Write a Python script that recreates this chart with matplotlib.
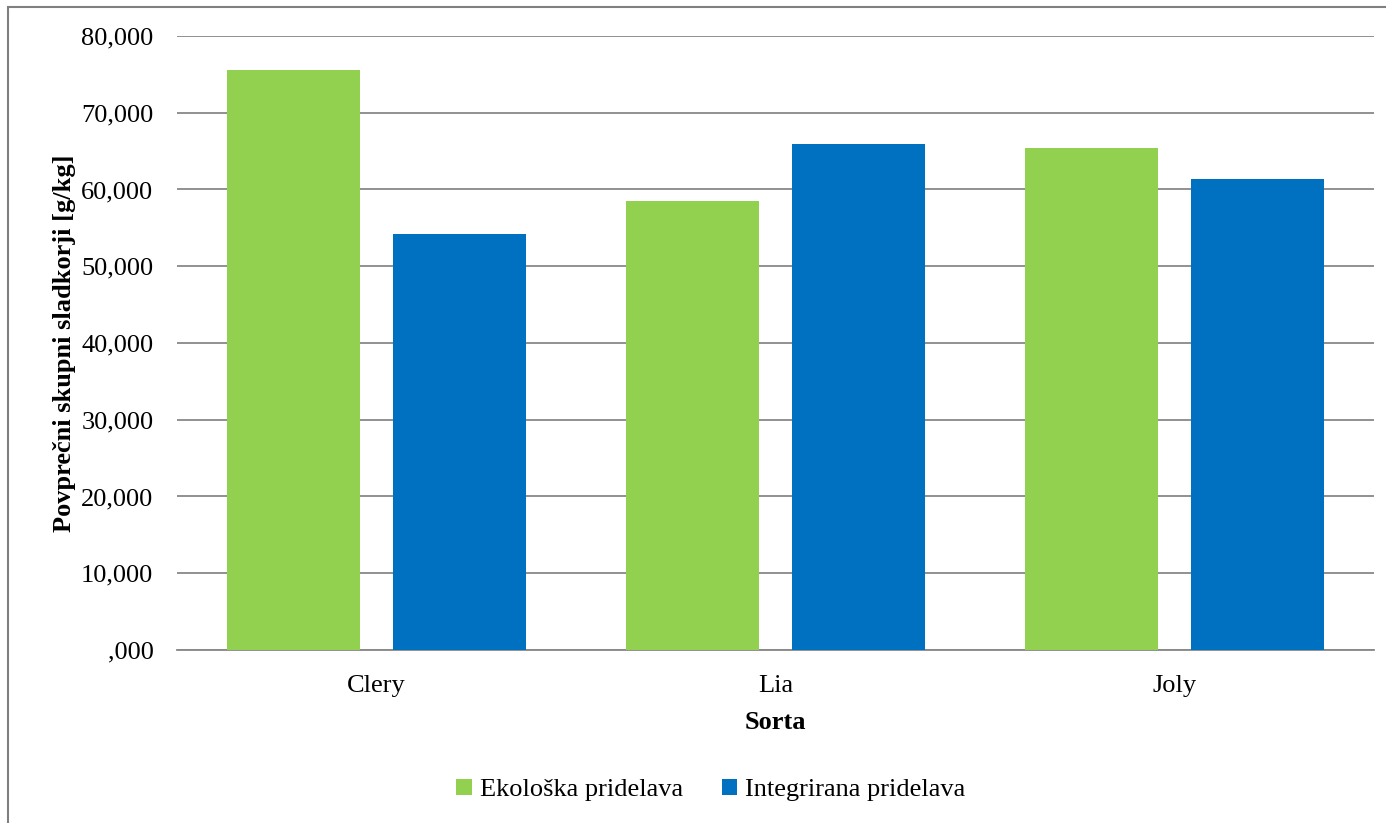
import matplotlib.pyplot as plt
import matplotlib.patches as mpatches
import numpy as np
from matplotlib.ticker import FuncFormatter

sorte = ["Clery", "Lia", "Joly"]
ekoloska = [75570, 58500, 65400]
integrirana = [54200, 65930, 61370]
serije = ["Ekološka pridelava", "Integrirana pridelava"]

plt.rcParams['font.family'] = ['Liberation Serif', 'DejaVu Serif']

fig = plt.figure(figsize=(13.86, 8.23), dpi=100)
ax = fig.add_axes([0.1277, 0.2102, 0.8636, 0.7461])

# frame around the whole chart
fig.patches.append(mpatches.Rectangle((8 / 1386, -0.05), 1.1, 1 - 6.5 / 823 + 0.05,
                                      transform=fig.transFigure, fill=False,
                                      edgecolor='#7f7f7f', linewidth=1.5))

x = np.arange(len(sorte))
w = 0.333
ax.bar(x - 0.208, ekoloska, w, color='#92d050', label=serije[0], zorder=3)
ax.bar(x + 0.208, integrirana, w, color='#0070c0', label=serije[1], zorder=3)

ax.set_xlim(-0.5, 2.5)
ax.set_ylim(0, 80000)
ax.set_yticks(np.arange(0, 80001, 10000))
ax.yaxis.set_major_formatter(FuncFormatter(
    lambda v, p: ",000" if v == 0 else f"{int(v) // 1000},000"))
ax.grid(axis='y', color='#888888', linewidth=1.3, zorder=0)
ax.set_xticks(x)
ax.set_xticklabels(sorte)
ax.tick_params(axis='both', length=0, labelsize=19)
ax.tick_params(axis='y', pad=17)
ax.tick_params(axis='x', pad=18)

for s in ['top', 'right', 'left']:
    ax.spines[s].set_visible(False)
ax.spines['bottom'].set_color('#888888')
ax.spines['bottom'].set_linewidth(1.3)

ax.set_xlabel("Sorta", fontsize=19, fontweight='bold', labelpad=10)
ax.set_ylabel("Povprečni skupni sladkorji [g/kg]", fontsize=19, fontweight='bold', labelpad=4)

fig.legend(loc='center', bbox_to_anchor=(711 / 1386, 1 - 790 / 823), ncol=2,
           frameon=False, fontsize=19, handlelength=0.6, handleheight=0.6,
           handletextpad=0.3, columnspacing=1.45)

fig.savefig("out.png", dpi=100)
